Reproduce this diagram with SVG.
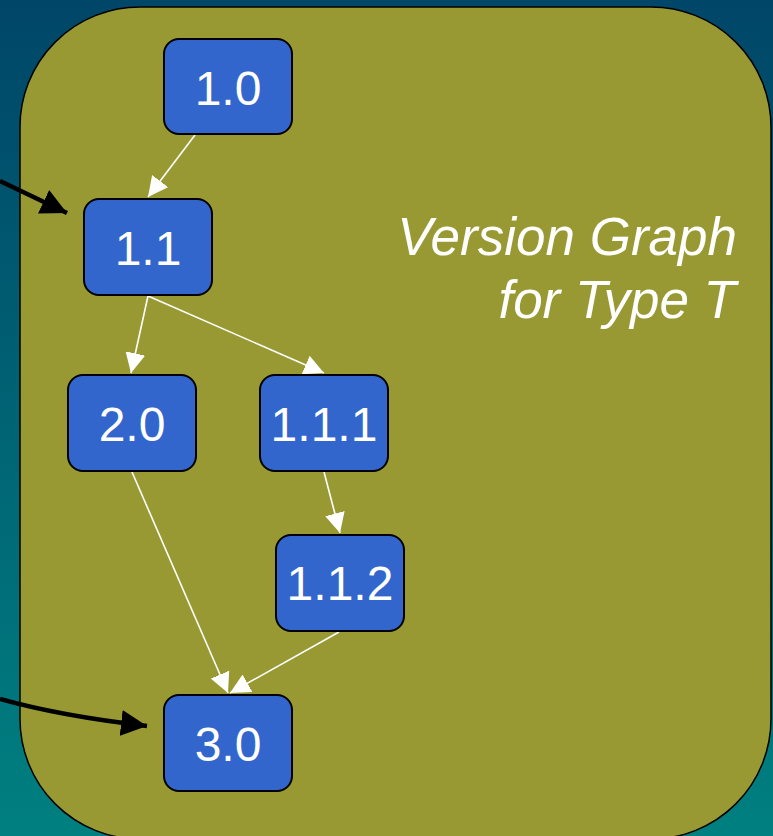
<svg xmlns="http://www.w3.org/2000/svg" width="773" height="836" viewBox="0 0 773 836">
<defs>
<linearGradient id="bg" x1="0" y1="0" x2="0" y2="1">
<stop offset="0" stop-color="#004668"/>
<stop offset="1" stop-color="#008080"/>
</linearGradient>
<marker id="wh" viewBox="0 0 10 10" refX="10" refY="5" markerWidth="20" markerHeight="20" markerUnits="userSpaceOnUse" orient="auto">
<path d="M0,0 L10,5 L0,10 Z" fill="#ffffff"/>
</marker>
<marker id="bh" viewBox="0 0 10 10" refX="10" refY="5" markerWidth="26" markerHeight="26" markerUnits="userSpaceOnUse" orient="auto">
<path d="M0,0 L10,5 L0,10 Z" fill="#000000"/>
</marker>
</defs>
<style>
.box{fill:#3366CC;stroke:#000;stroke-width:2}
.lbl{fill:#fff;font-family:"Liberation Sans",Arial,sans-serif;font-size:48px;text-anchor:middle}
.title{fill:#fff;font-family:"Liberation Sans",Arial,sans-serif;font-size:53px;font-style:italic;text-anchor:end}
.w{stroke:#fff;stroke-width:1.6;fill:none;marker-end:url(#wh)}
.b{stroke:#000;stroke-width:4.5;fill:none;marker-end:url(#bh)}
</style>
<rect x="0" y="0" width="773" height="836" fill="url(#bg)"/>
<rect id="container" x="20" y="7" width="751" height="832" rx="120" ry="120" fill="#999933" stroke="#000" stroke-width="1.5"/>
<g id="title">
<text class="title" x="737" y="255">Version Graph</text>
<text class="title" x="736" y="318">for Type T</text>
</g>
<g id="connectors">
<path class="w" d="M195,135 L148,197"/>
<path class="w" d="M148,296 L131,373"/>
<path class="w" d="M148,296 L324,373"/>
<path class="w" d="M324,472 L340,533"/>
<path class="w" d="M132,472 L228,693"/>
<path class="w" d="M339,632 L230,693"/>
<path class="b" d="M0,181 L67,213"/>
<path class="b" d="M0,699 Q60,716 147,726"/>
</g>
<g id="n10"><rect class="box" x="164" y="39" width="128" height="95" rx="15"/><text class="lbl" x="228" y="105">1.0</text></g>
<g id="n11"><rect class="box" x="84" y="199" width="128" height="96" rx="15"/><text class="lbl" x="148" y="265">1.1</text></g>
<g id="n20"><rect class="box" x="68" y="375" width="128" height="96" rx="15"/><text class="lbl" x="132" y="441">2.0</text></g>
<g id="n111"><rect class="box" x="260" y="375" width="128" height="96" rx="15"/><text class="lbl" x="324" y="441">1.1.1</text></g>
<g id="n112"><rect class="box" x="276" y="535" width="128" height="96" rx="15"/><text class="lbl" x="340" y="600">1.1.2</text></g>
<g id="n30"><rect class="box" x="164" y="695" width="128" height="96" rx="15"/><text class="lbl" x="228" y="761">3.0</text></g>
</svg>
